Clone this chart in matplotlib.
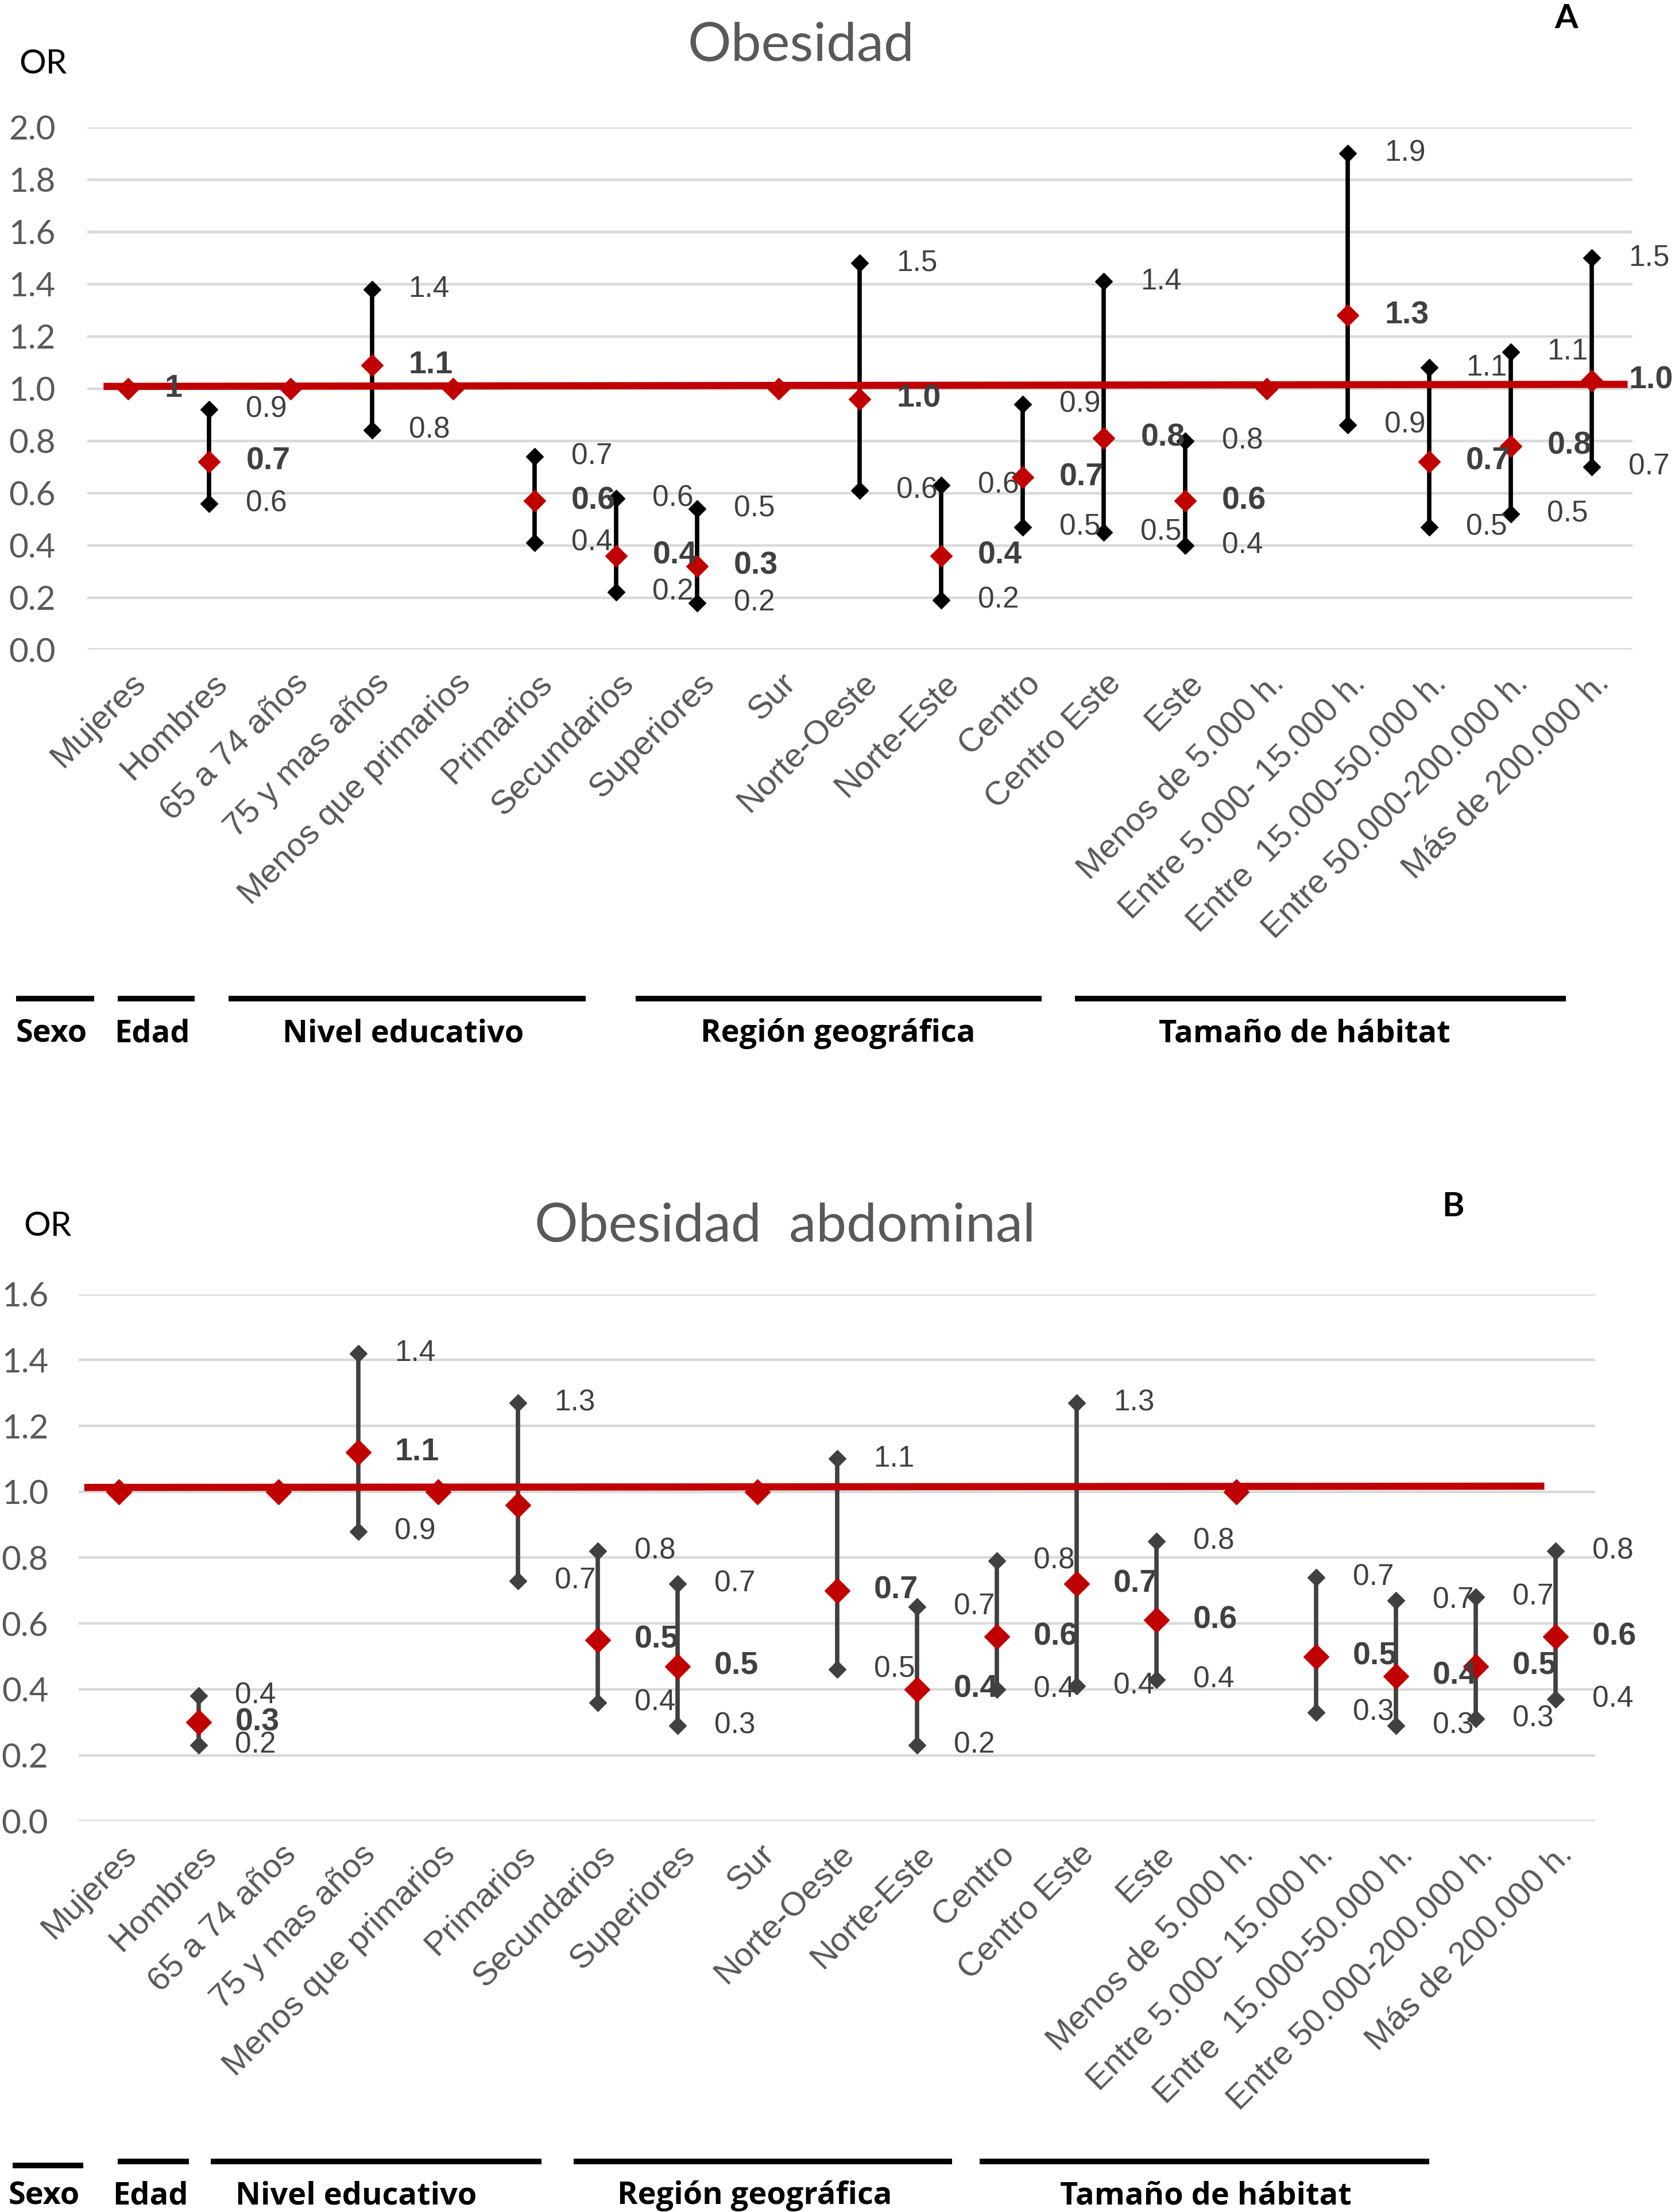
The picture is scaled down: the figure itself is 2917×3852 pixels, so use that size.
import numpy as np
import matplotlib
matplotlib.use('Agg')
import matplotlib.pyplot as plt
from matplotlib.lines import Line2D
from matplotlib.transforms import offset_copy

nan = np.nan

# Categorías del eje X (iguales en los dos paneles)
categorias = ['Mujeres', 'Hombres', '65 a 74 años', '75 y mas años', 'Menos que primarios',
              'Primarios', 'Secundarios', 'Superiores', 'Sur', 'Norte-Oeste', 'Norte-Este',
              'Centro', 'Centro Este', 'Este', 'Menos de 5.000 h.', 'Entre 5.000- 15.000 h.',
              'Entre  15.000-50.000 h.', 'Entre 50.000-200.000 h.', 'Más de 200.000 h.']

# Panel A: Obesidad (OR, IC inferior, IC superior)
or_a = [1.0, 0.72, 1.0, 1.09, 1.0, 0.57, 0.36, 0.32, 1.0, 0.96, 0.36, 0.66, 0.81, 0.57, 1.0, 1.28, 0.72, 0.78, 1.03]
inf_a = [nan, 0.56, nan, 0.84, nan, 0.41, 0.22, 0.18, nan, 0.61, 0.19, 0.47, 0.45, 0.40, nan, 0.86, 0.47, 0.52, 0.70]
sup_a = [nan, 0.92, nan, 1.38, nan, 0.74, 0.58, 0.54, nan, 1.48, 0.63, 0.94, 1.41, 0.80, nan, 1.90, 1.08, 1.14, 1.50]
etq_or_a = ['1', '0.7', '', '1.1', '', '0.6', '0.4', '0.3', '', '1.0', '0.4', '0.7', '0.8', '0.6', '', '1.3', '0.7', '0.8', '1.0']
etq_inf_a = ['', '0.6', '', '0.8', '', '0.4', '0.2', '0.2', '', '0.6', '0.2', '0.5', '0.5', '0.4', '', '0.9', '0.5', '0.5', '0.7']
etq_sup_a = ['', '0.9', '', '1.4', '', '0.7', '0.6', '0.5', '', '1.5', '0.6', '0.9', '1.4', '0.8', '', '1.9', '1.1', '1.1', '1.5']
ref_a_x = [-0.30, 18.44]
ref_a_y = [1.008, 1.016]

# Panel B: Obesidad abdominal
or_b = [1.0, 0.30, 1.0, 1.12, 1.0, 0.96, 0.55, 0.47, 1.0, 0.70, 0.40, 0.56, 0.72, 0.61, 1.0, 0.50, 0.44, 0.47, 0.56]
inf_b = [nan, 0.23, nan, 0.88, nan, 0.73, 0.36, 0.29, nan, 0.46, 0.23, 0.40, 0.41, 0.43, nan, 0.33, 0.29, 0.31, 0.37]
sup_b = [nan, 0.38, nan, 1.42, nan, 1.27, 0.82, 0.72, nan, 1.10, 0.65, 0.79, 1.27, 0.85, nan, 0.74, 0.67, 0.68, 0.82]
etq_or_b = ['', '0.3', '', '1.1', '', '', '0.5', '0.5', '', '0.7', '0.4', '0.6', '0.7', '0.6', '', '0.5', '0.4', '0.5', '0.6']
etq_inf_b = ['', '0.2', '', '0.9', '', '0.7', '0.4', '0.3', '', '0.5', '0.2', '0.4', '0.4', '0.4', '', '0.3', '0.3', '0.3', '0.4']
etq_sup_b = ['', '0.4', '', '1.4', '', '1.3', '0.8', '0.7', '', '1.1', '0.7', '0.8', '1.3', '0.8', '', '0.7', '0.7', '0.7', '0.8']
ref_b_x = [-0.43, 17.86]
ref_b_y = [1.013, 1.017]

grupos = ['Sexo', 'Edad', 'Nivel educativo', 'Región geográfica', 'Tamaño de hábitat']

W, H = 2917, 3852
ROJO = '#C00000'
GRIS = '#595959'
NARROW = ['Liberation Sans Narrow', 'Liberation Sans', 'DejaVu Sans']
TITULO = ['Lato', 'DejaVu Sans']

plt.rcParams['font.family'] = TITULO

fig = plt.figure(figsize=(W / 100, H / 100), dpi=100)


def panel(ax, ors, infs, sups, e_or, e_inf, e_sup, ref_x, ref_y, ymax, col_ic, ms_or, pad):
    x = np.arange(len(categorias))
    ax.set_xlim(-0.5, len(categorias) - 0.5)
    ax.set_ylim(0, ymax)
    ax.set_yticks(np.arange(0, ymax + 0.01, 0.2))
    ax.set_yticklabels(['%.1f' % t for t in np.arange(0, ymax + 0.01, 0.2)])
    ax.tick_params(axis='y', length=0, pad=pad, labelsize=42, labelcolor=GRIS)
    ax.set_xticks([])
    for s in ax.spines.values():
        s.set_visible(False)
    ax.grid(axis='y', color='#D9D9D9', lw=3.2)
    ax.set_axisbelow(True)

    # intervalos de confianza
    for i in x:
        if not np.isnan(infs[i]):
            ax.plot([i, i], [infs[i], sups[i]], color=col_ic, lw=5.5, zorder=2)
            ax.plot([i, i], [infs[i], sups[i]], ls='none', marker='D', ms=15, color=col_ic, zorder=3)
    # línea de referencia
    ax.plot(ref_x, ref_y, color=ROJO, lw=9, zorder=4, solid_capstyle='butt')
    ax.plot(x, ors, ls='none', marker='D', ms=ms_or, color=ROJO, zorder=5)

    # etiquetas de datos
    for i in x:
        for val, txt, bold in [(sups[i], e_sup[i], False), (ors[i], e_or[i], True), (infs[i], e_inf[i], False)]:
            if txt:
                ax.annotate(txt, (i, val), xytext=(46, 0), textcoords='offset points',
                            ha='left', va='center', fontsize=40 if bold else 37,
                            fontweight='bold' if bold else 'normal', color='#404040',
                            family=NARROW, zorder=6, annotation_clip=False)

    # etiquetas de categorías
    trans = offset_copy(ax.get_xaxis_transform(), fig=fig, x=22, y=-50, units='dots')
    for i, c in enumerate(categorias):
        ax.text(i, 0, c, transform=trans, rotation=45, ha='right', va='center',
                rotation_mode='anchor', fontsize=42, color=GRIS, family=NARROW)


def grupos_fig(lineas, y_linea, centros, y_texto):
    for (x0, x1), yl in zip(lineas, y_linea):
        fig.add_artist(Line2D([x0 / W, x1 / W], [1 - yl / H, 1 - yl / H], transform=fig.transFigure,
                              color='black', lw=7, solid_capstyle='butt'))
    for g, cx in zip(grupos, centros):
        fig.text(cx / W, 1 - y_texto / H, g, ha='center', va='center', fontsize=39,
                 fontweight='bold', family=['Open Sans', 'DejaVu Sans'], color='black')


# Panel A
ax1 = fig.add_axes([152 / W, 1 - 1131.5 / H, (2843 - 152) / W, (1131.5 - 221.6) / H])
panel(ax1, or_a, inf_a, sup_a, etq_or_a, etq_inf_a, etq_sup_a, ref_a_x, ref_a_y, 2.0, 'black', 19, 40)
fig.text(1395 / W, 1 - 106 / H, 'Obesidad', ha='center', va='baseline', fontsize=68, color=GRIS)
fig.text(33 / W, 1 - 128 / H, 'OR', ha='left', va='baseline', fontsize=42, color='black')
fig.text(2728 / W, 1 - 49 / H, 'A', ha='center', va='baseline', fontsize=42, fontweight='bold', color='black')
grupos_fig([(28, 164), (205, 339), (398, 1020), (1107, 1814), (1872, 2727)], [1739] * 5,
           [90, 265, 702, 1459, 2272], 1800)

# Panel B
ax2 = fig.add_axes([137 / W, 1 - 3171.3 / H, (2778.4 - 137) / W, (3171.3 - 2253.6) / H])
panel(ax2, or_b, inf_b, sup_b, etq_or_b, etq_inf_b, etq_sup_b, ref_b_x, ref_b_y, 1.6, '#404040', 22, 38)
fig.text(1367 / W, 1 - 2162 / H, 'Obesidad  abdominal', ha='center', va='baseline', fontsize=68, color=GRIS)
fig.text(41 / W, 1 - 2152 / H, 'OR', ha='left', va='baseline', fontsize=42, color='black')
fig.text(2530 / W, 1 - 2118 / H, 'B', ha='center', va='baseline', fontsize=42, fontweight='bold', color='black')
grupos_fig([(22, 145), (205, 329), (367, 943), (999, 1658), (1706, 2489)], [3771, 3764, 3764, 3764, 3764],
           [77, 262, 620, 1314, 2100], 3824)

fig.savefig('out.png', dpi=100, facecolor='white')
